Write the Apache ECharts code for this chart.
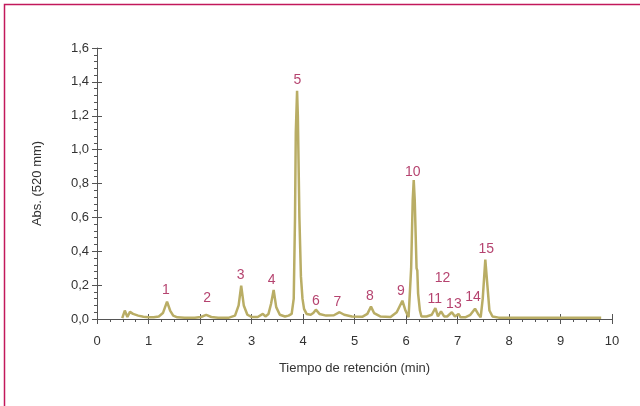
<!DOCTYPE html>
<html>
<head>
<meta charset="utf-8">
<script src="https://cdn.jsdelivr.net/npm/echarts@6/dist/echarts.min.js"></script>
<style>
  html, body { margin: 0; padding: 0; background: #fff; }
  #chart { width: 640px; height: 406px; }
</style>
</head>
<body>
<div id="chart"></div>
<script>
// chromatogram trace: retention time (min) / absorbance
var tiempo = [
    0.49, 0.54, 0.59, 0.64, 0.70, 0.80, 0.90, 1.00, 1.10, 1.20, 1.28, 1.36, 1.42, 1.48, 1.56,
    1.70, 1.90, 2.02, 2.12, 2.22, 2.35, 2.55, 2.68, 2.75, 2.80, 2.85, 2.92, 3.00, 3.12, 3.22,
    3.27, 3.33, 3.38, 3.43, 3.48, 3.55, 3.65, 3.72, 3.78, 3.82, 3.845, 3.86, 3.885, 3.90, 3.93,
    3.96, 3.99, 4.02, 4.07, 4.15, 4.20, 4.25, 4.32, 4.45, 4.60, 4.71, 4.80, 4.95, 5.15, 5.25,
    5.32, 5.38, 5.50, 5.70, 5.82, 5.93, 5.99, 6.05, 6.07, 6.10, 6.13, 6.15, 6.17, 6.205, 6.22,
    6.235, 6.27, 6.30, 6.40, 6.50, 6.57, 6.62, 6.68, 6.74, 6.80, 6.89, 6.95, 7.02, 7.06, 7.15,
    7.25, 7.34, 7.40, 7.45, 7.49, 7.54, 7.58, 7.62, 7.68, 7.80, 8.00, 9.79
];
var absorbancia = [
    0.005, 0.050, 0.012, 0.042, 0.030, 0.020, 0.013, 0.010, 0.010, 0.015, 0.035, 0.103, 0.050, 0.020, 0.010,
    0.007, 0.007, 0.012, 0.024, 0.012, 0.007, 0.007, 0.020, 0.080, 0.197, 0.080, 0.025, 0.012, 0.012, 0.030,
    0.015, 0.030, 0.090, 0.172, 0.070, 0.025, 0.015, 0.020, 0.030, 0.120, 0.600, 1.100, 1.347, 1.200, 0.600,
    0.250, 0.120, 0.060, 0.030, 0.025, 0.035, 0.055, 0.030, 0.020, 0.022, 0.040, 0.025, 0.015, 0.013, 0.030,
    0.073, 0.035, 0.015, 0.012, 0.040, 0.108, 0.050, 0.010, 0.020, 0.300, 0.700, 0.820, 0.700, 0.300, 0.285,
    0.150, 0.050, 0.015, 0.015, 0.025, 0.065, 0.015, 0.045, 0.015, 0.015, 0.040, 0.015, 0.030, 0.010, 0.010,
    0.025, 0.061, 0.030, 0.010, 0.120, 0.351, 0.200, 0.050, 0.015, 0.008, 0.007, 0.007
];

// peak numbers and where their labels sit
var picos = ['1', '2', '3', '4', '5', '6', '7', '8', '9', '10', '11', '12', '13', '14', '15'];
var picoX = [1.34, 2.14, 2.79, 3.39, 3.89, 4.25, 4.67, 5.30, 5.90, 6.13, 6.56, 6.71, 6.93, 7.30, 7.56];
var picoY = [0.172, 0.125, 0.257, 0.232, 1.412, 0.103, 0.098, 0.134, 0.167, 0.867, 0.119, 0.240, 0.089, 0.132, 0.411];

var chart = echarts.init(document.getElementById('chart'));

var traza = [];
for (var i = 0; i < tiempo.length; i++) {
    traza.push([tiempo[i], absorbancia[i]]);
}
var etiquetas = [];
for (var j = 0; j < picos.length; j++) {
    etiquetas.push({value: [picoX[j], picoY[j]], name: picos[j]});
}

var fuente = '"Liberation Sans", Arial, sans-serif';
var gris = '#555';

var option = {
    animation: false,
    textStyle: {fontFamily: fuente},
    graphic: [{
        type: 'polyline',
        shape: {points: [[4.5, 406], [4.5, 4.5], [640, 4.5]]},
        style: {stroke: '#c2185b', lineWidth: 1.5, fill: null}
    }],
    grid: {left: 97, right: 28, top: 48, bottom: 87},
    xAxis: [{
        type: 'value', min: 0, max: 10, interval: 1,
        name: 'Tiempo de retención (min)', nameLocation: 'middle', nameGap: 43,
        nameTextStyle: {color: '#333', fontSize: 13, fontFamily: fuente},
        axisLine: {lineStyle: {color: gris, width: 1}},
        axisTick: {show: true, length: 5, lineStyle: {color: gris}},
        minorTick: {show: true, splitNumber: 4, length: 3, lineStyle: {color: gris}},
        axisLabel: {color: '#333', fontSize: 13, margin: 16, fontFamily: fuente},
        splitLine: {show: false}
    }, {
        type: 'value', min: 0, max: 10, interval: 1, position: 'bottom',
        axisLine: {show: false},
        axisTick: {show: true, inside: true, length: 5, lineStyle: {color: gris}},
        axisLabel: {show: false},
        splitLine: {show: false}
    }],
    yAxis: [{
        type: 'value', min: 0, max: 1.6, interval: 0.2,
        name: 'Abs. (520 mm)', nameLocation: 'middle', nameGap: 53,
        nameTextStyle: {color: '#333', fontSize: 13, fontFamily: fuente},
        axisLine: {show: true, lineStyle: {color: gris, width: 1}},
        axisTick: {show: true, length: 5, lineStyle: {color: gris}},
        minorTick: {show: true, splitNumber: 5, length: 3, lineStyle: {color: gris}},
        axisLabel: {
            color: '#333', fontSize: 13, fontFamily: fuente,
            formatter: function (v) { return v.toFixed(1).replace('.', ','); }
        },
        splitLine: {show: false}
    }, {
        type: 'value', min: 0, max: 1.6, interval: 0.2, position: 'left',
        axisLine: {show: false},
        axisTick: {show: true, inside: true, length: 5, lineStyle: {color: gris}},
        axisLabel: {show: false},
        splitLine: {show: false}
    }],
    series: [{
        type: 'line',
        data: traza,
        showSymbol: false,
        smooth: false,
        lineStyle: {color: '#b9ad65', width: 2.5},
        z: 3
    }, {
        type: 'scatter',
        data: etiquetas,
        symbolSize: 0,
        label: {
            show: true, position: 'inside',
            formatter: '{b}',
            color: '#a3144b', fontSize: 14, fontFamily: fuente
        },
        z: 4
    }]
};

chart.setOption(option);
</script>
</body>
</html>
